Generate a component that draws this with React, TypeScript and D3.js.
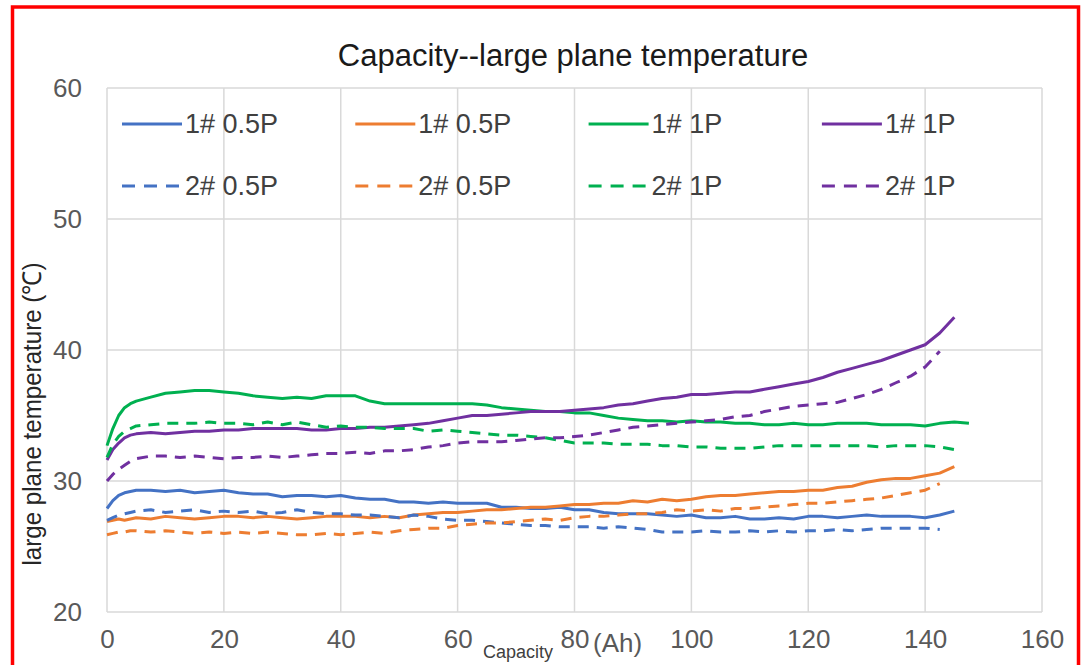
import * as d3 from "d3";
import { useEffect, useRef } from "react";

// ---- data ----
const capacity = [
  0, 1, 2, 3, 4, 5, 7.5, 10, 12.5, 15, 17.5, 20, 22.5, 25, 27.5, 30, 32.5, 35, 37.5, 40,
  42.5, 45, 47.5, 50, 52.5, 55, 57.5, 60, 62.5, 65, 67.5, 70, 72.5, 75, 77.5, 80, 82.5, 85,
  87.5, 90, 92.5, 95, 97.5, 100, 102.5, 105, 107.5, 110, 112.5, 115, 117.5, 120, 122.5, 125,
  127.5, 130, 132.5, 135, 137.5, 140, 142.5, 145, 147.5,
];

const blue1 = [
  27.9, 28.5, 28.9, 29.1, 29.2, 29.3, 29.3, 29.2, 29.3, 29.1, 29.2, 29.3, 29.1, 29.0, 29.0, 28.8,
  28.9, 28.9, 28.8, 28.9, 28.7, 28.6, 28.6, 28.4, 28.4, 28.3, 28.4, 28.3, 28.3, 28.3, 28.0, 28.0,
  27.9, 27.9, 28.0, 27.8, 27.8, 27.6, 27.5, 27.5, 27.5, 27.4, 27.3, 27.4, 27.2, 27.2, 27.3, 27.1,
  27.1, 27.2, 27.1, 27.3, 27.3, 27.2, 27.3, 27.4, 27.3, 27.3, 27.3, 27.2, 27.4, 27.7,
];
const blue2 = [
  27.0, 27.2, 27.4, 27.5, 27.6, 27.7, 27.8, 27.6, 27.7, 27.8, 27.6, 27.7, 27.6, 27.7, 27.5, 27.6,
  27.8, 27.6, 27.5, 27.5, 27.4, 27.4, 27.3, 27.2, 27.4, 27.3, 27.1, 27.0, 27.0, 26.9, 26.8, 26.7,
  26.6, 26.6, 26.5, 26.5, 26.5, 26.4, 26.5, 26.4, 26.3, 26.1, 26.1, 26.1, 26.2, 26.1, 26.1, 26.2,
  26.1, 26.2, 26.1, 26.2, 26.2, 26.3, 26.2, 26.3, 26.4, 26.4, 26.4, 26.4, 26.3,
];
const orange1 = [
  26.9, 27.0, 27.1, 27.0, 27.1, 27.2, 27.1, 27.3, 27.2, 27.1, 27.2, 27.3, 27.3, 27.2, 27.3, 27.2,
  27.1, 27.2, 27.3, 27.3, 27.3, 27.2, 27.3, 27.2, 27.4, 27.5, 27.6, 27.6, 27.7, 27.8, 27.8, 27.9,
  28.0, 28.0, 28.1, 28.2, 28.2, 28.3, 28.3, 28.5, 28.4, 28.6, 28.5, 28.6, 28.8, 28.9, 28.9, 29.0,
  29.1, 29.2, 29.2, 29.3, 29.3, 29.5, 29.6, 29.9, 30.1, 30.2, 30.2, 30.4, 30.6, 31.1,
];
const orange2 = [
  25.9, 26.0, 26.1, 26.1, 26.2, 26.2, 26.1, 26.2, 26.1, 26.0, 26.1, 26.0, 26.1, 26.0, 26.1, 26.0,
  25.9, 25.9, 26.0, 25.9, 26.0, 26.1, 26.0, 26.2, 26.3, 26.4, 26.4, 26.6, 26.7, 26.8, 26.8, 26.9,
  27.0, 27.1, 27.0, 27.2, 27.3, 27.3, 27.4, 27.5, 27.5, 27.6, 27.8, 27.7, 27.8, 27.7, 27.9, 27.9,
  28.0, 28.1, 28.2, 28.3, 28.3, 28.4, 28.5, 28.6, 28.7, 28.9, 29.1, 29.3, 29.8,
];
const green1 = [
  32.7, 34.0, 35.0, 35.6, 35.9, 36.1, 36.4, 36.7, 36.8, 36.9, 36.9, 36.8, 36.7, 36.5, 36.4, 36.3,
  36.4, 36.3, 36.5, 36.5, 36.5, 36.1, 35.9, 35.9, 35.9, 35.9, 35.9, 35.9, 35.9, 35.8, 35.6, 35.5,
  35.4, 35.3, 35.3, 35.2, 35.2, 35.0, 34.8, 34.7, 34.6, 34.6, 34.5, 34.6, 34.5, 34.5, 34.4, 34.4,
  34.3, 34.3, 34.4, 34.3, 34.3, 34.4, 34.4, 34.4, 34.3, 34.3, 34.3, 34.2, 34.4, 34.5, 34.4,
];
const green2 = [
  31.8, 32.8, 33.4, 33.8, 34.0, 34.2, 34.3, 34.4, 34.4, 34.4, 34.5, 34.4, 34.4, 34.3, 34.5, 34.3,
  34.5, 34.3, 34.1, 34.2, 34.1, 34.1, 34.0, 34.0, 34.0, 33.8, 33.9, 33.8, 33.7, 33.6, 33.5, 33.5,
  33.4, 33.3, 33.1, 32.9, 32.9, 32.9, 32.8, 32.8, 32.8, 32.7, 32.7, 32.6, 32.6, 32.5, 32.5, 32.5,
  32.6, 32.7, 32.7, 32.7, 32.7, 32.7, 32.7, 32.7, 32.6, 32.7, 32.7, 32.7, 32.6, 32.4,
];
const purple1 = [
  31.6, 32.4, 32.9, 33.3, 33.5, 33.6, 33.7, 33.6, 33.7, 33.8, 33.8, 33.9, 33.9, 34.0, 34.0, 34.0,
  34.0, 33.9, 33.9, 34.0, 34.0, 34.1, 34.1, 34.2, 34.3, 34.4, 34.6, 34.8, 35.0, 35.0, 35.1, 35.2,
  35.3, 35.3, 35.3, 35.4, 35.5, 35.6, 35.8, 35.9, 36.1, 36.3, 36.4, 36.6, 36.6, 36.7, 36.8, 36.8,
  37.0, 37.2, 37.4, 37.6, 37.9, 38.3, 38.6, 38.9, 39.2, 39.6, 40.0, 40.4, 41.3, 42.5,
];
const purple2 = [
  30.0, 30.5, 30.9, 31.2, 31.5, 31.7, 31.9, 31.9, 31.8, 31.9, 31.8, 31.7, 31.8, 31.8, 31.9, 31.8,
  31.9, 32.0, 32.1, 32.1, 32.2, 32.1, 32.3, 32.3, 32.4, 32.6, 32.7, 32.9, 33.0, 33.0, 33.0, 33.1,
  33.2, 33.3, 33.3, 33.4, 33.5, 33.7, 33.9, 34.1, 34.2, 34.3, 34.4, 34.5, 34.6, 34.7, 34.9, 35.0,
  35.3, 35.5, 35.7, 35.8, 35.9, 36.0, 36.3, 36.6, 37.0, 37.5, 38.0, 38.7, 39.9,
];

const seriesNames = ["1# 0.5P", "1# 0.5P", "1# 1P", "1# 1P", "2# 0.5P", "2# 0.5P", "2# 1P", "2# 1P"];
const seriesValues = [blue1, orange1, green1, purple1, blue2, orange2, green2, purple2];
const seriesColors = ["#4472C4", "#ED7D31", "#00B050", "#7030A0", "#4472C4", "#ED7D31", "#00B050", "#7030A0"];
const seriesDashed = [false, false, false, false, true, true, true, true];

const xTicks = [0, 20, 40, 60, 80, 100, 120, 140, 160];
const yTicks = [20, 30, 40, 50, 60];

export default function App() {
  const ref = useRef<SVGSVGElement>(null);

  useEffect(() => {
    const width = 1083;
    const height = 665;
    const left = 107, right = 1042, top = 88, bottom = 612;
    const font = "'Liberation Sans', Arial, sans-serif";

    const svg = d3.select(ref.current);
    svg.selectAll("*").remove();
    svg.attr("viewBox", `0 0 ${width} ${height}`);

    svg.append("rect").attr("width", width).attr("height", height).attr("fill", "#fff");

    const x = d3.scaleLinear().domain([0, 160]).range([left, right]);
    const y = d3.scaleLinear().domain([20, 60]).range([bottom, top]);

    // grid
    const grid = svg.append("g").attr("stroke", "#d9d9d9").attr("stroke-width", 1.5);
    grid.selectAll("line.h").data(yTicks).join("line")
      .attr("class", "h")
      .attr("x1", left).attr("x2", right)
      .attr("y1", d => y(d)).attr("y2", d => y(d));
    grid.selectAll("line.v").data(xTicks).join("line")
      .attr("class", "v")
      .attr("y1", top).attr("y2", bottom)
      .attr("x1", d => x(d)).attr("x2", d => x(d));

    // axes (labels only)
    const yAxis = svg.append("g")
      .attr("transform", `translate(${left - 25},0)`)
      .call(d3.axisLeft(y).tickValues(yTicks).tickSize(0).tickPadding(0));
    yAxis.select(".domain").remove();
    yAxis.selectAll("text")
      .attr("font-family", font)
      .attr("font-size", 26).attr("fill", "#595959");

    const xAxis = svg.append("g")
      .attr("transform", `translate(0,${bottom + 18})`)
      .call(d3.axisBottom(x).tickValues(xTicks).tickSize(0).tickPadding(0));
    xAxis.select(".domain").remove();
    xAxis.selectAll("text")
      .attr("font-family", font)
      .attr("font-size", 26).attr("fill", "#595959");

    // lines
    const line = d3.line<number>()
      .x((_, i) => x(capacity[i]))
      .y(d => y(d));

    seriesValues.forEach((vals, k) => {
      svg.append("path")
        .datum(vals)
        .attr("d", line)
        .attr("fill", "none")
        .attr("stroke", seriesColors[k])
        .attr("stroke-width", 3)
        .attr("stroke-linejoin", "round")
        .attr("stroke-dasharray", seriesDashed[k] ? "11,8" : null);
    });

    // legend
    const legend = svg.append("g");
    seriesNames.forEach((name, k) => {
      const col = k % 4;
      const row = Math.floor(k / 4);
      const lx = 122 + col * 233.3;
      const ly = 124 + row * 62;
      legend.append("line")
        .attr("x1", lx).attr("x2", lx + 60)
        .attr("y1", ly).attr("y2", ly)
        .attr("stroke", seriesColors[k])
        .attr("stroke-width", 3)
        .attr("stroke-dasharray", seriesDashed[k] ? "13,9" : null);
      legend.append("text")
        .attr("x", lx + 63).attr("y", ly)
        .attr("dy", "0.35em")
        .attr("font-family", font)
        .attr("font-size", 27)
        .attr("fill", "#404040")
        .text(name);
    });

    // title
    svg.append("text")
      .attr("x", 573).attr("y", 66)
      .attr("text-anchor", "middle")
      .attr("font-family", font)
      .attr("font-size", 31)
      .attr("fill", "#1a1a1a")
      .text("Capacity--large plane temperature");

    // y axis title
    svg.append("text")
      .attr("transform", `translate(41,414) rotate(-90)`)
      .attr("text-anchor", "middle")
      .attr("font-family", font)
      .attr("font-size", 26)
      .attr("fill", "#262626")
      .attr("textLength", 303)
      .attr("lengthAdjust", "spacingAndGlyphs")
      .text("large plane temperature (℃)");

    // x axis title
    svg.append("text")
      .attr("x", 483).attr("y", 658)
      .attr("font-family", font)
      .attr("font-size", 18)
      .attr("fill", "#404040")
      .text("Capacity");
    svg.append("text")
      .attr("x", 593).attr("y", 652)
      .attr("font-family", font)
      .attr("font-size", 26)
      .attr("fill", "#595959")
      .text("(Ah)");

    // red frame
    svg.append("rect")
      .attr("x", 12.5).attr("y", 7)
      .attr("width", 1066).attr("height", 700)
      .attr("fill", "none")
      .attr("stroke", "#ff0000")
      .attr("stroke-width", 3.5);
  }, []);

  return (
    <svg
      ref={ref}
      width={1083}
      height={665}
      style={{ position: "absolute", left: 0, top: 0, display: "block" }}
    />
  );
}
